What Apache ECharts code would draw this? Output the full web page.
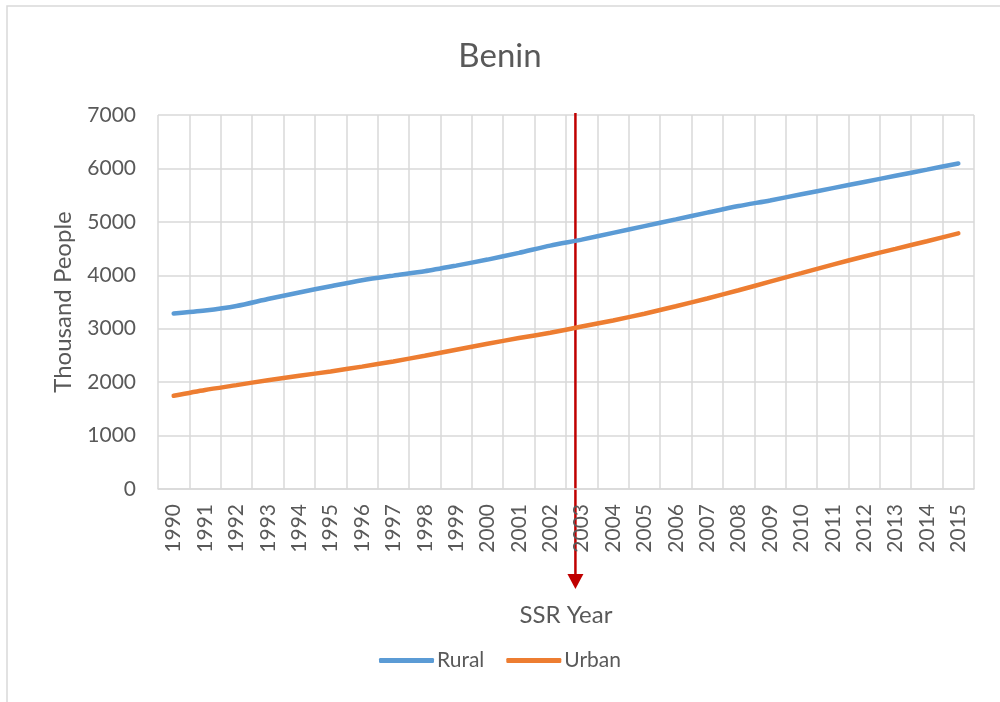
<!DOCTYPE html>
<html>
<head>
<meta charset="utf-8">
<script src="https://cdn.jsdelivr.net/npm/echarts@6/dist/echarts.min.js"></script>
<style>
html,body{margin:0;padding:0;background:#fff;}
#main{width:1000px;height:702px;}
</style>
</head>
<body>
<div id="main"></div>
<script>
// years on the category axis
var years = ['1990','1991','1992','1993','1994','1995','1996','1997','1998','1999','2000','2001','2002',
             '2003','2004','2005','2006','2007','2008','2009','2010','2011','2012','2013','2014','2015'];
// population, thousand people
var rural = [3284,3340,3426,3556,3679,3796,3907,3994,4075,4181,4294,4419,4556,
             4667,4793,4920,5046,5173,5296,5401,5516,5632,5747,5862,5977,6093];
var urban = [1744,1852,1944,2037,2120,2200,2290,2388,2494,2606,2719,2825,2925,
             3040,3155,3280,3420,3565,3720,3880,4040,4200,4352,4494,4638,4784];
var ssrYear = '2003';

var font = 'Lato, "Open Sans", sans-serif';
var grey = '#595959';

var myChart = echarts.init(document.getElementById('main'));
var option = {
  animation: false,
  title: {
    text: 'Benin', left: 'center', top: 35,
    textStyle: {fontFamily: font, fontSize: 33, fontWeight: 'normal', color: grey}
  },
  legend: {
    top: 645, left: 'center', itemWidth: 55, itemHeight: 5, itemGap: 22,
    icon: 'roundRect',
    textStyle: {fontFamily: font, fontSize: 21, color: grey, padding: [0,0,0,-2]},
    data: ['Rural','Urban']
  },
  grid: {left: 158, right: 26, top: 115, bottom: 213},
  xAxis: {
    type: 'category', data: years, boundaryGap: true,
    name: 'SSR Year', nameLocation: 'middle', nameGap: 114,
    nameTextStyle: {fontFamily: font, fontSize: 24, color: grey},
    axisLine: {lineStyle: {color: '#d9d9d9', width: 1.5}},
    axisTick: {show: false},
    axisLabel: {rotate: 90, margin: 15, fontFamily: font, fontSize: 21, color: grey},
    splitLine: {show: true, interval: 0, lineStyle: {color: '#d9d9d9', width: 1.5}}
  },
  yAxis: {
    type: 'value', min: 0, max: 7000, interval: 1000,
    name: 'Thousand People', nameLocation: 'middle', nameGap: 83,
    nameTextStyle: {fontFamily: font, fontSize: 24, color: grey},
    axisLine: {show: false}, axisTick: {show: false},
    axisLabel: {margin: 22, fontFamily: font, fontSize: 21, color: grey,
                formatter: function (v) { return String(v); }},
    splitLine: {lineStyle: {color: '#d9d9d9', width: 1.5}}
  },
  series: [
    {name: 'Rural', type: 'line', data: rural, smooth: 0.25, symbol: 'none',
     lineStyle: {color: '#5B9BD5', width: 4.5, cap: 'round'}, itemStyle: {color: '#5B9BD5'}},
    {name: 'Urban', type: 'line', data: urban, smooth: 0.25, symbol: 'none',
     lineStyle: {color: '#ED7D31', width: 4.5, cap: 'round'}, itemStyle: {color: '#ED7D31'}}
  ]
};
myChart.setOption(option);

// SSR year arrow, placed from the axis scale
var band = myChart.convertToPixel({xAxisIndex: 0}, years[1]) - myChart.convertToPixel({xAxisIndex: 0}, years[0]);
var ax = myChart.convertToPixel({xAxisIndex: 0}, ssrYear) - band * 0.2;
var yTop = myChart.convertToPixel({yAxisIndex: 0}, 7000) - 2;
myChart.setOption({
  graphic: [
    {type: 'rect', shape: {x: 7, y: 6, width: 1100, height: 1000}, silent: true,
     style: {fill: 'none', stroke: '#d9d9d9', lineWidth: 1.5}},
    {type: 'line', shape: {x1: ax, y1: yTop, x2: ax, y2: 576},
     style: {stroke: '#C00000', lineWidth: 2.5}},
    {type: 'polygon', shape: {points: [[ax - 8, 574], [ax + 8, 574], [ax, 589]]},
     style: {fill: '#C00000'}}
  ]
});
</script>
</body>
</html>
